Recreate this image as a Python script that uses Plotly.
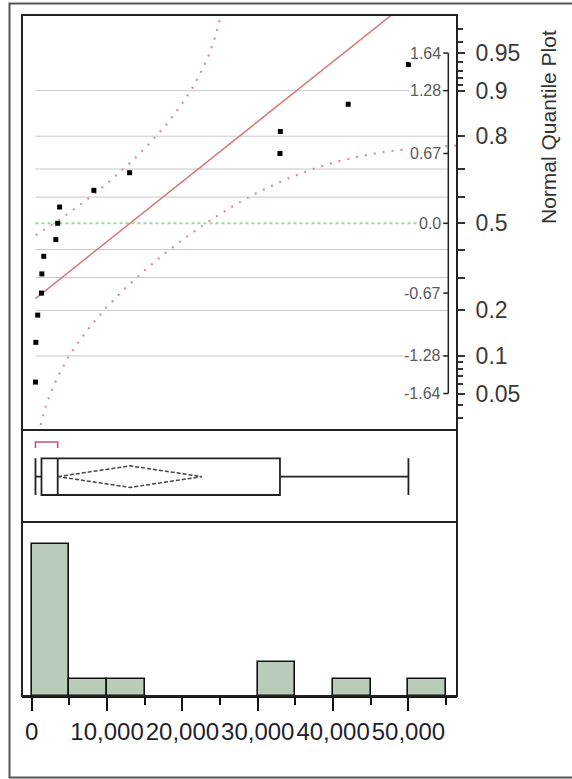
import numpy as np
import plotly.graph_objects as go
from statistics import NormalDist

# ---------------- data ----------------
VALUES = [500, 550, 800, 1300, 1350, 1600, 3200, 3450, 3700, 8250,
          13000, 32950, 33000, 42000, 50000]
HIST_BIN_START = 0
HIST_BIN_END = 55000
HIST_BIN_SIZE = 5000
X_TICK_VALUES = [0, 10000, 20000, 30000, 40000, 50000]
X_TICK_LABELS = ["0", "10,000", "20,000", "30,000", "40,000", "50,000"]
X_MINOR_TICKS = [5000, 15000, 25000, 35000, 45000, 55000]
PROB_MAJOR = [0.05, 0.1, 0.2, 0.3, 0.4, 0.5, 0.6, 0.7, 0.8, 0.9, 0.95]
PROB_LABELS = ["0.05", "0.1", "0.2", "", "", "0.5", "", "", "0.8", "0.9", "0.95"]
PROB_MINOR = [0.03, 0.04, 0.06, 0.07, 0.08, 0.09, 0.91, 0.92, 0.93, 0.94, 0.96, 0.97]
PROB_GRID = [0.1, 0.2, 0.3, 0.4, 0.6, 0.7, 0.8, 0.9]
QUANTILE_PROBS = [0.95, 0.9, 0.75, 0.5, 0.25, 0.1, 0.05]
QUANTILE_LABELS = ["1.64", "1.28", "0.67", "0.0", "-0.67", "-1.28", "-1.64"]
LILLIEFORS_D = 0.220      # 5% Lilliefors critical value, n = 15
T_975_DF14 = 2.1448       # t quantile for 95% CI of the mean, df = 14
TITLE = "Normal Quantile Plot"

# ---------------- statistics ----------------
nd = NormalDist()
xs = np.sort(np.array(VALUES, dtype=float))
n = len(xs)
z_pts = np.array([nd.inv_cdf(i / (n + 1)) for i in range(1, n + 1)])
mean = xs.mean()
sd = xs.std(ddof=1)
ci = T_975_DF14 * sd / np.sqrt(n)
xmin = xs.min()

k = int(np.ceil(n / 2))
widths = [xs[i + k - 1] - xs[i] for i in range(n - k + 1)]
i0 = int(np.argmin(widths))
sh_lo, sh_hi = xs[i0], xs[i0 + k - 1]

# ---------------- geometry (pixels) ----------------
W, H = 572, 779
L_PX, R_PX, T_PX, B_PX = 22, 457, 15, 696
PW, PH = R_PX - L_PX, B_PX - T_PX
X0_PX, PX_PER_UNIT = 31.7, (446.1 - 31.7) / 55000
XR = [-(X0_PX - L_PX) / PX_PER_UNIT, -(X0_PX - L_PX) / PX_PER_UNIT + PW / PX_PER_UNIT]

def fy(py):
    return (B_PX - py) / PH

def fx(px):
    return (px - L_PX) / PW

Z0_PX, PX_PER_Z = 223.3, 103.5
ZR = [(Z0_PX - 430) / PX_PER_Z, (Z0_PX - T_PX) / PX_PER_Z]
HIST_TOP = (696 - 522) / 16.9

INNER_AXIS_F = fx(448.3)
X_INNER = XR[0] + INNER_AXIS_F * (XR[1] - XR[0])

fig = go.Figure()

# ---------------- quantile panel ----------------
zz = np.arange(-2.3, 2.3001, 0.005)
up_x, up_z, lo_x, lo_z = [], [], [], []
for z in zz:
    p = nd.cdf(z) - LILLIEFORS_D
    if p > 0:
        xv = mean + sd * nd.inv_cdf(p)
        if xv >= xmin:
            up_x.append(xv); up_z.append(z)
    p = nd.cdf(z) + LILLIEFORS_D
    if p < 1:
        xv = mean + sd * nd.inv_cdf(p)
        if xv >= xmin:
            lo_x.append(xv); lo_z.append(z)

band_style = dict(color="#d68f9c", width=2.2, dash="2px,7px")
fig.add_trace(go.Scatter(x=up_x, y=up_z, mode="lines", line=band_style,
                         xaxis="x", yaxis="y", hoverinfo="skip"))
fig.add_trace(go.Scatter(x=lo_x, y=lo_z, mode="lines", line=band_style,
                         xaxis="x", yaxis="y", hoverinfo="skip"))

zl = np.array([(xmin - mean) / sd, 2.5])
fig.add_trace(go.Scatter(x=mean + sd * zl, y=zl, mode="lines",
                         line=dict(color="#d47a7a", width=1.5),
                         xaxis="x", yaxis="y", hoverinfo="skip"))

fig.add_trace(go.Scatter(x=xs, y=z_pts, mode="markers",
                         marker=dict(symbol="square", size=5, color="black"),
                         xaxis="x", yaxis="y"))

# ---------------- box panel ----------------
BOX_C, BOX_W, DIA_H = 0.493, 0.399, 0.117
fig.add_trace(go.Box(x=VALUES, y0=BOX_C, orientation="h", width=BOX_W,
                     quartilemethod="exclusive", boxpoints=False,
                     whiskerwidth=1, fillcolor="white",
                     line=dict(color="#222222", width=1.8),
                     xaxis="x2", yaxis="y2"))
fig.add_trace(go.Scatter(
    x=[mean - ci, mean, mean + ci, mean, mean - ci],
    y=[BOX_C, BOX_C + DIA_H, BOX_C, BOX_C - DIA_H, BOX_C],
    mode="lines", line=dict(color="#444444", width=1.5, dash="4px,2px"),
    xaxis="x2", yaxis="y2", hoverinfo="skip"))
fig.add_trace(go.Scatter(
    x=[sh_lo, sh_lo, sh_hi, sh_hi], y=[0.804, 0.87, 0.87, 0.804],
    mode="lines", line=dict(color="#c8507a", width=1.6),
    xaxis="x2", yaxis="y2", hoverinfo="skip"))

# ---------------- histogram ----------------
fig.add_trace(go.Histogram(
    x=VALUES, xbins=dict(start=HIST_BIN_START, end=HIST_BIN_END, size=HIST_BIN_SIZE),
    marker=dict(color="#b9cbb9", line=dict(color="#111111", width=1.6)),
    xaxis="x3", yaxis="y3"))

# ---------------- shapes ----------------
shapes = []
for p in PROB_GRID:
    z = nd.inv_cdf(p)
    shapes.append(dict(type="line", xref="x", yref="y", x0=xmin, x1=X_INNER, y0=z, y1=z,
                       line=dict(color="#c8c8c8", width=1), layer="below"))
shapes.append(dict(type="line", xref="x", yref="y", x0=xmin, x1=X_INNER, y0=0, y1=0,
                   line=dict(color="#a5d1a0", width=2, dash="dot"), layer="below"))

zq = [nd.inv_cdf(p) for p in QUANTILE_PROBS]
shapes.append(dict(type="line", xref="x domain", yref="y", x0=INNER_AXIS_F, x1=INNER_AXIS_F,
                   y0=min(zq), y1=max(zq), line=dict(color="#222222", width=1.5)))
annotations = []
for z, lab in zip(zq, QUANTILE_LABELS):
    shapes.append(dict(type="line", xref="x domain", yref="y", x0=fx(443.3), x1=INNER_AXIS_F,
                       y0=z, y1=z, line=dict(color="#222222", width=1.5)))
    annotations.append(dict(text=lab, xref="x domain", yref="y", x=fx(442), y=z,
                            xanchor="right", yanchor="middle", showarrow=False,
                            font=dict(size=16, color="#5a5a5a"), bgcolor="white",
                            borderpad=0))

for xa, ya in [("x", "y"), ("x2", "y2"), ("x3", "y3")]:
    shapes.append(dict(type="rect", xref=xa + " domain", yref=ya + " domain",
                       x0=0, x1=1, y0=0, y1=1, line=dict(color="#222222", width=2)))

shapes.append(dict(type="rect", xref="paper", yref="paper",
                   x0=fx(9.5), x1=fx(590), y0=fy(3.5), y1=fy(777.5),
                   line=dict(color="#555555", width=2)))

annotations.append(dict(text=TITLE, xref="paper", yref="paper", x=fx(549), y=fy(127),
                        textangle=-90, showarrow=False, xanchor="center", yanchor="middle",
                        font=dict(size=21, color="#333333")))

font_family = "Liberation Sans, Arial, sans-serif"
fig.update_layout(
    width=W, height=H, showlegend=False,
    paper_bgcolor="white", plot_bgcolor="white",
    margin=dict(l=L_PX, r=W - R_PX, t=T_PX, b=H - B_PX, pad=0),
    font=dict(family=font_family),
    shapes=shapes, annotations=annotations, bargap=0,
    xaxis=dict(domain=[0, 1], range=XR, anchor="y", visible=False),
    xaxis2=dict(domain=[0, 1], range=XR, anchor="y2", visible=False, matches="x"),
    xaxis3=dict(domain=[0, 1], range=XR, anchor="y3", matches="x",
                showline=True, linecolor="#111111", linewidth=2,
                ticks="outside", ticklen=13, tickwidth=2, tickcolor="#111111",
                tickvals=X_TICK_VALUES, ticktext=X_TICK_LABELS, tickangle=0,
                ticklabeloverflow="allow", ticklabelstandoff=0,
                tickfont=dict(size=24, color="#1f1f2e"),
                minor=dict(tickvals=X_MINOR_TICKS, ticks="outside", ticklen=7,
                           tickwidth=2, tickcolor="#111111"),
                showgrid=False, zeroline=False),
    yaxis=dict(domain=[fy(430), 1], range=ZR, anchor="x", side="right",
               showline=False, showgrid=False, zeroline=False,
               ticks="outside", ticklen=7, tickwidth=1.5, tickcolor="#333333",
               tickvals=[nd.inv_cdf(p) for p in PROB_MAJOR], ticktext=PROB_LABELS,
               ticklabelstandoff=6, tickfont=dict(size=23, color="#3a3a3a"),
               minor=dict(tickvals=[nd.inv_cdf(p) for p in PROB_MINOR], ticks="outside",
                          ticklen=5, tickwidth=1.5, tickcolor="#333333")),
    yaxis2=dict(domain=[fy(522), fy(430)], range=[0, 1], anchor="x2", visible=False),
    yaxis3=dict(domain=[0, fy(522)], range=[0, HIST_TOP], anchor="x3", visible=False),
)

fig.write_html("out.html", config={"displayModeBar": False},
               post_script="document.body.style.margin='0';document.body.style.overflow='hidden';")
